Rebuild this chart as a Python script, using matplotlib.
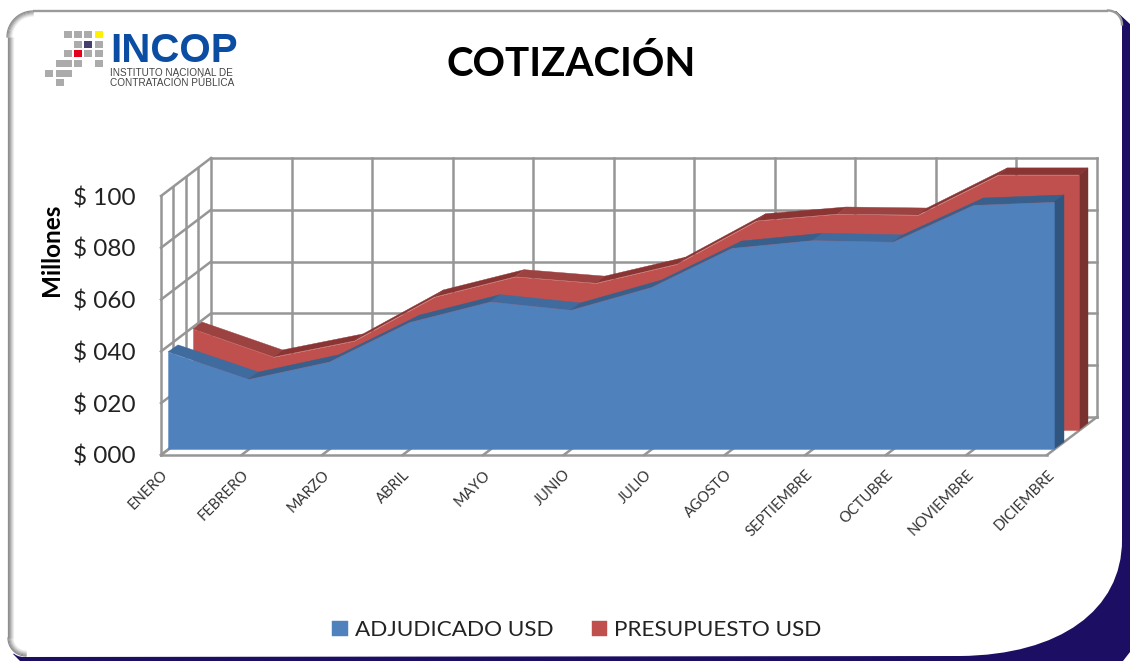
import numpy as np
import matplotlib
matplotlib.use("Agg")
import matplotlib.pyplot as plt
from matplotlib.path import Path
from matplotlib.patches import PathPatch, Rectangle, Polygon

plt.rcParams['font.family'] = ['Lato', 'DejaVu Sans']

# ---------- data ----------
MONTHS = ["ENERO", "FEBRERO", "MARZO", "ABRIL", "MAYO", "JUNIO", "JULIO",
          "AGOSTO", "SEPTIEMBRE", "OCTUBRE", "NOVIEMBRE", "DICIEMBRE"]
ADJUDICADO = [37.5, 27.0, 33.7, 49.0, 56.9, 53.7, 62.5, 77.6, 80.6, 80.0, 94.2, 95.4]
PRESUPUESTO = [39.0, 28.2, 34.4, 51.4, 59.2, 56.7, 64.0, 80.8, 83.4, 83.0, 98.5, 98.5]
Y_TICKS = [0, 20, 40, 60, 80, 100]
Y_LABELS = ["$ 000", "$ 020", "$ 040", "$ 060", "$ 080", "$ 100"]
TITLE = "COTIZACIÓN"
Y_TITLE = "Millones"
NAME_A = "ADJUDICADO USD"
NAME_P = "PRESUPUESTO USD"

# ---------- style ----------
W, H = 1130, 661
GRID = "#969696"
BLUE, BLUE_DN, BLUE_UP, BLUE_SIDE = "#4F81BD", "#3F6B9F", "#37608C", "#30557F"
RED, RED_DN, RED_UP, RED_SIDE = "#C0504D", "#9C4240", "#8A3533", "#7A3230"
NAVY = "#1C0F63"
X0_PX, X11_PX, Y0_PX, Y100_PX = 161, 1047, 455, 196
SX = (X11_PX - X0_PX) / 11
SY = (Y0_PX - Y100_PX) / 100
BACK = (50, 38)               # depth of the box, px
BLUE_DEPTH = ((7, 6), (17, 13))
RED_DEPTH = ((32, 25), (41, 32))

fig = plt.figure(figsize=(W / 100, H / 100), dpi=100, facecolor="white")

# ---------- frame ----------
bg = fig.add_axes([0, 0, 1, 1], zorder=0)
bg.set_xlim(0, W); bg.set_ylim(H, 0); bg.axis("off")
bg.add_patch(Polygon([(1116, 11), (1130, 24), (1130, 652), (1123, 661),
                      (20, 661), (13, 654)], closed=True, fc=NAVY, ec="none"))
verts = [(33, 11), (1108, 11), (1116, 11), (1122, 16), (1122, 24),
         (1122, 540), (1122, 610), (1060, 655), (960, 656),
         (24, 657), (14, 657), (8, 650), (8, 638),
         (8, 36), (8, 22), (19, 11), (33, 11)]
codes = [Path.MOVETO, Path.LINETO, Path.CURVE4, Path.CURVE4, Path.CURVE4,
         Path.LINETO, Path.CURVE4, Path.CURVE4, Path.CURVE4,
         Path.LINETO, Path.CURVE4, Path.CURVE4, Path.CURVE4,
         Path.LINETO, Path.CURVE4, Path.CURVE4, Path.CURVE4]
bg.add_patch(PathPatch(Path(verts, codes), fc="white", ec="none"))
bg.plot([33, 1108], [10.5, 10.5], color="#9A9A9A", lw=1.7, solid_capstyle="butt")
arc = np.linspace(0, np.pi / 2, 20)
bg.plot(1108 + 14 * np.sin(arc), 24.5 - 14 * np.cos(arc), color="#9A9A9A", lw=1.7)
shades = ["#8E8E8E", "#9C9C9C", "#B0B0B0", "#C6C6C6", "#DCDCDC", "#EEEEEE"]
for i, c in reversed(list(enumerate(shades))):
    r1, r2 = 26 - i, 18 - i
    bg.plot(33 - r1 * np.cos(arc), 37 - r1 * np.sin(arc), color=c, lw=0.9)
    bg.plot([7.5 + i, 7.5 + i], [37, 638], color=c, lw=0.9, solid_capstyle="butt")
    bg.plot(26 - r2 * np.cos(arc), 638 + r2 * np.sin(arc), color=c, lw=0.9)

# ---------- logo ----------
G = "#ABABAB"
logo = [(64, 34, G), (74, 34, G), (84, 34, G), (94.5, 34, "#FFF200"),
        (74, 44, G), (84, 44, "#45406B"), (94.5, 44, G),
        (64, 53.5, G), (74, 53.5, "#E2001A"), (84, 53.5, G), (94.5, 53.5, G),
        (56, 63, G), (64, 63, G), (74, 63, G), (94.5, 63, G),
        (45, 73, G), (56, 73, G), (64, 73, G),
        (56, 82.5, G)]
for lx, ly, lc in logo:
    bg.add_patch(Rectangle((lx, ly - 3.5), 8, 7, fc=lc, ec="none"))
bg.text(110, 62, "INCOP", color="#0B4DA2", fontsize=29, fontweight="bold",
        family="Liberation Sans", ha="left", va="baseline")
bg.text(110, 76.5, "INSTITUTO NACIONAL DE", color="#444444", fontsize=7.2,
        family="Liberation Sans", ha="left", va="baseline")
bg.text(110, 86.5, "CONTRATACIÓN PÚBLICA", color="#444444", fontsize=7.2,
        family="Liberation Sans", ha="left", va="baseline")

# ---------- chart axes: data scale covers the whole figure ----------
ax = fig.add_axes([0, 0, 1, 1], zorder=1)
ax.patch.set_alpha(0)
ax.set_xlim(-X0_PX / SX, (W - X0_PX) / SX)
ax.set_ylim(-(H - Y0_PX) / SY, Y0_PX / SY)


def shift(x, v, off):
    """Move a data point back in depth by an offset given in pixels."""
    return np.asarray(x, float) + off[0] / SX, np.asarray(v, float) + off[1] / SY


x = np.arange(len(MONTHS))
for s in ("top", "right"):
    ax.spines[s].set_visible(False)
for s, bounds in (("bottom", (0, 11)), ("left", (0, 100))):
    ax.spines[s].set_position(("data", 0))
    ax.spines[s].set_bounds(*bounds)
    ax.spines[s].set_color(GRID)
    ax.spines[s].set_linewidth(1.8)
ax.set_xticks(x, MONTHS, rotation=45, ha="right", va="top", rotation_mode="anchor",
              fontsize=10.5, color="#333333")
ax.set_yticks(Y_TICKS, Y_LABELS, fontsize=17.5, color="#222222")
ax.tick_params(axis="x", length=0, pad=9)
ax.tick_params(axis="y", length=0, pad=18)

# box walls and gridlines
gkw = dict(color=GRID, lw=1.8, zorder=1, solid_capstyle="projecting")
for t in Y_TICKS:
    bx, by = shift([0, 11], [t, t], BACK)
    ax.plot(bx, by, **gkw)
    ax.plot([0, bx[0]], [t, by[0]], **gkw)
for i in x:
    bx, by = shift([i, i], [0, 100], BACK)
    ax.plot(bx, by, **gkw)
    ax.plot([i, bx[0]], [0, by[0]], **gkw)
for frac in (0.25, 0.5, 0.75):
    bx, by = shift([0, 0], [0, 100], (BACK[0] * frac, BACK[1] * frac))
    ax.plot(bx, by, **gkw)


def solid(values, depth, front, dn, up, side, z, label):
    f_x, f_y = shift(x, values, depth[0])
    b_x, b_y = shift(x, values, depth[1])
    for i in range(len(x) - 1):
        col = dn if values[i + 1] < values[i] else up
        ax.fill([f_x[i], f_x[i + 1], b_x[i + 1], b_x[i]],
                [f_y[i], f_y[i + 1], b_y[i + 1], b_y[i]],
                fc=col, ec=col, lw=0.3, zorder=z)
    ax.fill([f_x[-1], b_x[-1], b_x[-1], f_x[-1]],
            [f_y[-1], b_y[-1], depth[1][1] / SY, depth[0][1] / SY],
            fc=side, ec=side, lw=0.3, zorder=z)
    ax.fill_between(f_x, depth[0][1] / SY, f_y, fc=front, ec=front, lw=0.3,
                    zorder=z + 0.1, label=label)


solid(PRESUPUESTO, RED_DEPTH, RED, RED_DN, RED_UP, RED_SIDE, 2, NAME_P)
solid(ADJUDICADO, BLUE_DEPTH, BLUE, BLUE_DN, BLUE_UP, BLUE_SIDE, 3, NAME_A)

ax.text((571 - X0_PX) / SX, (Y0_PX - 64) / SY, TITLE, fontsize=29, fontweight="bold",
        color="black", ha="center", va="center")
ax.text((52 - X0_PX) / SX, (Y0_PX - 250) / SY, Y_TITLE, fontsize=17.5, fontweight="bold",
        color="black", rotation=90, ha="center", va="center")

h, l = ax.get_legend_handles_labels()
order = [l.index(NAME_A), l.index(NAME_P)]
ax.legend([h[i] for i in order], [l[i] for i in order], ncol=2, frameon=False,
          loc="center", bbox_to_anchor=(577 / W, 1 - 630.5 / H),
          bbox_transform=fig.transFigure, fontsize=16.2, handlelength=0.68,
          handleheight=0.68, handletextpad=0.32, columnspacing=1.7,
          labelcolor="#222222")

fig.savefig("out.png", dpi=100, facecolor="white")
